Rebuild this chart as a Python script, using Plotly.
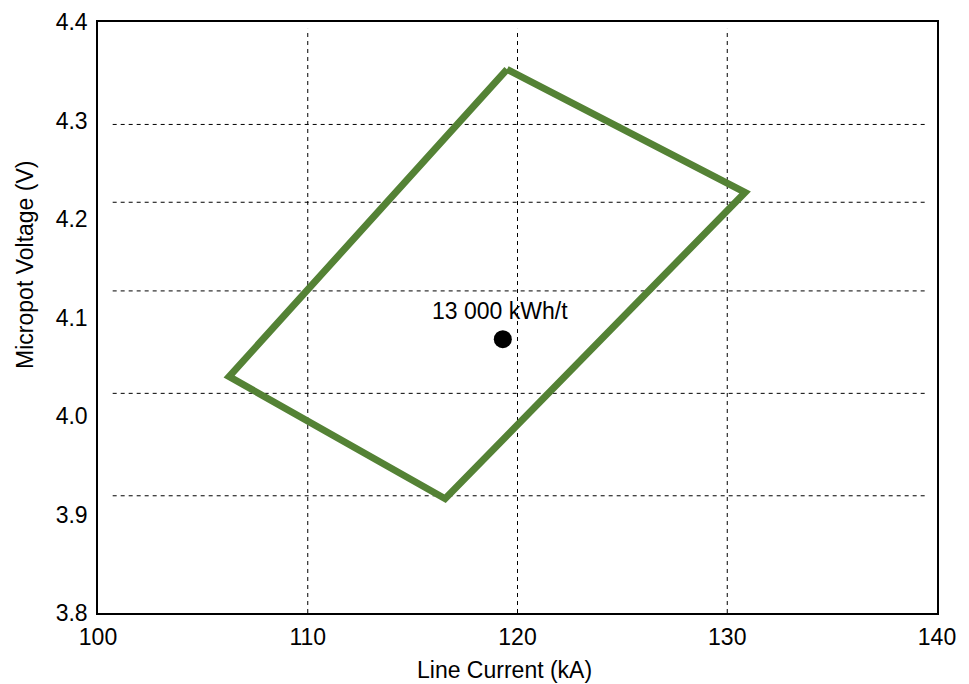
import plotly.graph_objects as go

# Operating window polygon (Line Current kA, Micropot Voltage V)
window_current = [119.5, 130.85, 116.55, 106.25, 119.5]
window_voltage = [4.352, 4.227, 3.916, 4.040, 4.352]

# Target point
point_current = [119.3]
point_voltage = [4.078]
point_label = ["13 000 kWh/t"]

# Custom dashed guide lines
vgrid_x = [110, 120, 130]
hgrid_y = [4.296, 4.217, 4.127, 4.023, 3.919]

x_ticks = [100, 110, 120, 130, 140]
y_ticks = [3.8, 3.9, 4.0, 4.1, 4.2, 4.3, 4.4]

x_title = "Line Current (kA)"
y_title = "Micropot Voltage (V)"

FONT = "Liberation Sans, Arial, sans-serif"
FS = 23

fig = go.Figure()

# horizontal dashed guides
for y in hgrid_y:
    fig.add_trace(go.Scatter(x=[100.7, 139.6], y=[y, y], mode="lines",
                             line=dict(color="black", width=1, dash="4px,4px"),
                             hoverinfo="skip", showlegend=False))
# vertical dashed guides
for x in vgrid_x:
    fig.add_trace(go.Scatter(x=[x, x], y=[3.8, 4.393], mode="lines",
                             line=dict(color="black", width=1, dash="4px,4px"),
                             hoverinfo="skip", showlegend=False))

fig.add_trace(go.Scatter(x=window_current, y=window_voltage, mode="lines",
                         line=dict(color="#548235", width=7),
                         showlegend=False))

fig.add_trace(go.Scatter(x=point_current, y=point_voltage, mode="markers",
                         marker=dict(color="black", size=18),
                         showlegend=False))

fig.add_annotation(x=point_current[0], y=point_voltage[0], text=point_label[0],
                   showarrow=False, yshift=28, xshift=-3,
                   font=dict(family=FONT, size=FS, color="black"))

# axis titles (placed as annotations to match the reference's offsets)
fig.add_annotation(xref="paper", yref="paper", x=0.485, y=-0.0964,
                   xanchor="center", yanchor="middle", text=x_title,
                   showarrow=False, font=dict(family=FONT, size=FS, color="black"))
fig.add_annotation(xref="paper", yref="paper", x=-0.087, y=0.589,
                   xanchor="center", yanchor="middle", text=y_title, textangle=-90,
                   showarrow=False, font=dict(family=FONT, size=FS, color="black"))

fig.update_layout(
    width=961, height=676,
    margin=dict(l=90, r=32, t=14, b=71),
    plot_bgcolor="white", paper_bgcolor="white",
    font=dict(family=FONT, size=FS, color="black"),
    xaxis=dict(range=[100, 140], tickvals=x_ticks, showgrid=False, zeroline=False,
               showline=True, mirror=True, linecolor="black", linewidth=1.5,
               ticks="", ticklabelstandoff=3, automargin=False),
    yaxis=dict(range=[3.8, 4.4], tickvals=y_ticks, tickformat=".1f", showgrid=False,
               zeroline=False, showline=True, mirror=True, linecolor="black",
               linewidth=1.5, ticks="", ticklabelstandoff=4, automargin=False),
)

fig.write_html("out.html")
